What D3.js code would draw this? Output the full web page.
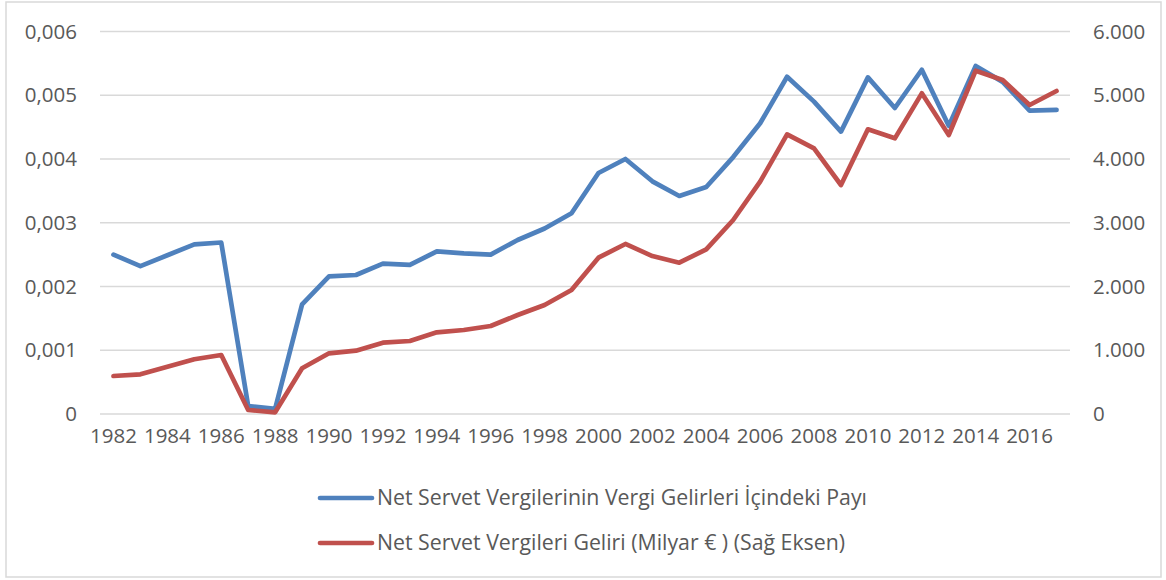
<!DOCTYPE html>
<html>
<head>
<meta charset="utf-8">
<script src="https://cdn.jsdelivr.net/npm/d3@7"></script>
<style>
  html, body { margin: 0; padding: 0; background: #fff; }
  svg text { font-family: "Open Sans", "Noto Sans", sans-serif; fill: #595959; }
</style>
</head>
<body>
<svg id="chart" width="1166" height="580"></svg>
<script>
// Years on the category axis
const years = d3.range(1982, 2018);

// Share of net wealth taxes in total tax revenue (left axis)
const shareValues = [
  0.00250, 0.00232, 0.00249, 0.00266, 0.00269, 0.000125, 0.00008, 0.00172,
  0.00216, 0.00218, 0.00236, 0.00234, 0.00255, 0.00252, 0.00250, 0.00273,
  0.00291, 0.00315, 0.00378, 0.00400, 0.00365, 0.00342, 0.00356, 0.00403,
  0.00456, 0.00529, 0.00490, 0.00443, 0.00528, 0.00480, 0.00540, 0.00452,
  0.00546, 0.00521, 0.00476, 0.00477
];

// Net wealth tax revenue, billion EUR (right axis)
const revenueValues = [
  596, 622, 742, 858, 925, 63, 26, 717,
  952, 993, 1119, 1145, 1281, 1318, 1380, 1553,
  1710, 1945, 2452, 2667, 2478, 2373, 2583, 3043,
  3644, 4387, 4167, 3592, 4466, 4324, 5030, 4376,
  5385, 5239, 4847, 5067
];

const leftTicks = [0, 0.001, 0.002, 0.003, 0.004, 0.005, 0.006];
const rightTicks = [0, 1000, 2000, 3000, 4000, 5000, 6000];
const xTickYears = d3.range(1982, 2017, 2);

const seriesNames = [
  "Net Servet Vergilerinin Vergi Gelirleri İçindeki Payı",
  "Net Servet Vergileri Geliri (Milyar € ) (Sağ Eksen)"
];
const seriesColors = ["#4F81BD", "#C0504D"];

const trLocale = d3.formatLocale({ decimal: ",", thousands: ".", grouping: [3], currency: ["", " €"] });
const fmtLeft = d => d === 0 ? "0" : trLocale.format(".3f")(d);
const fmtRight = d => trLocale.format(",.0f")(d);

const svg = d3.select("#chart");
const plot = { left: 100, right: 1070, top: 31.5, bottom: 414 };

// Outer chart border
svg.append("rect")
  .attr("x", 6).attr("y", 2)
  .attr("width", 1155).attr("height", 575)
  .attr("fill", "#fff")
  .attr("stroke", "#d9d9d9").attr("stroke-width", 1.5);

const x = d3.scaleBand().domain(years).range([plot.left, plot.right]).padding(0);
const yL = d3.scaleLinear().domain([0, 0.006]).range([plot.bottom, plot.top]);
const yR = d3.scaleLinear().domain([0, 6000]).range([plot.bottom, plot.top]);
const cx = d => x(d) + x.bandwidth() / 2;

// Horizontal gridlines
svg.append("g")
  .selectAll("line")
  .data(leftTicks)
  .join("line")
  .attr("x1", plot.left).attr("x2", plot.right)
  .attr("y1", d => yL(d)).attr("y2", d => yL(d))
  .attr("stroke", "#d9d9d9").attr("stroke-width", 1.5);

// Left axis
const gL = svg.append("g")
  .attr("transform", `translate(${plot.left - 23},0)`)
  .call(d3.axisLeft(yL).tickValues(leftTicks).tickFormat(fmtLeft).tickSize(0).tickPadding(0));
gL.select(".domain").remove();
gL.selectAll("text").style("font-size", "20.5px").style("font-family", null).attr("fill", null);

// Right axis
const gR = svg.append("g")
  .attr("transform", `translate(${plot.right + 23},0)`)
  .call(d3.axisRight(yR).tickValues(rightTicks).tickFormat(fmtRight).tickSize(0).tickPadding(0));
gR.select(".domain").remove();
gR.selectAll("text").style("font-size", "20.5px").style("font-family", null).attr("fill", null);

// Bottom axis (every second year labelled)
const gX = svg.append("g")
  .attr("transform", `translate(0,${plot.bottom + 14})`)
  .call(d3.axisBottom(x).tickValues(xTickYears).tickSize(0).tickPadding(0));
gX.select(".domain").remove();
gX.selectAll("text").style("font-size", "20.5px").style("font-family", null).attr("fill", null).attr("dy", "0.75em");

// Lines
const lineL = d3.line().x((d, i) => cx(years[i])).y(d => yL(d));
const lineR = d3.line().x((d, i) => cx(years[i])).y(d => yR(d));

svg.append("path")
  .datum(shareValues)
  .attr("d", lineL)
  .attr("fill", "none")
  .attr("stroke", seriesColors[0])
  .attr("stroke-width", 4.7)
  .attr("stroke-linejoin", "round")
  .attr("stroke-linecap", "round");

svg.append("path")
  .datum(revenueValues)
  .attr("d", lineR)
  .attr("fill", "none")
  .attr("stroke", seriesColors[1])
  .attr("stroke-width", 4.7)
  .attr("stroke-linejoin", "round")
  .attr("stroke-linecap", "round");

// Legend
const legendY = [498, 543];
const legend = svg.append("g");
seriesNames.forEach((name, i) => {
  legend.append("line")
    .attr("x1", 320).attr("x2", 372)
    .attr("y1", legendY[i]).attr("y2", legendY[i])
    .attr("stroke", seriesColors[i]).attr("stroke-width", 4.7)
    .attr("stroke-linecap", "round");
  legend.append("text")
    .attr("x", 377).attr("y", legendY[i])
    .attr("dy", "0.35em")
    .style("font-size", "21.3px")
    .text(name);
});
</script>
</body>
</html>
